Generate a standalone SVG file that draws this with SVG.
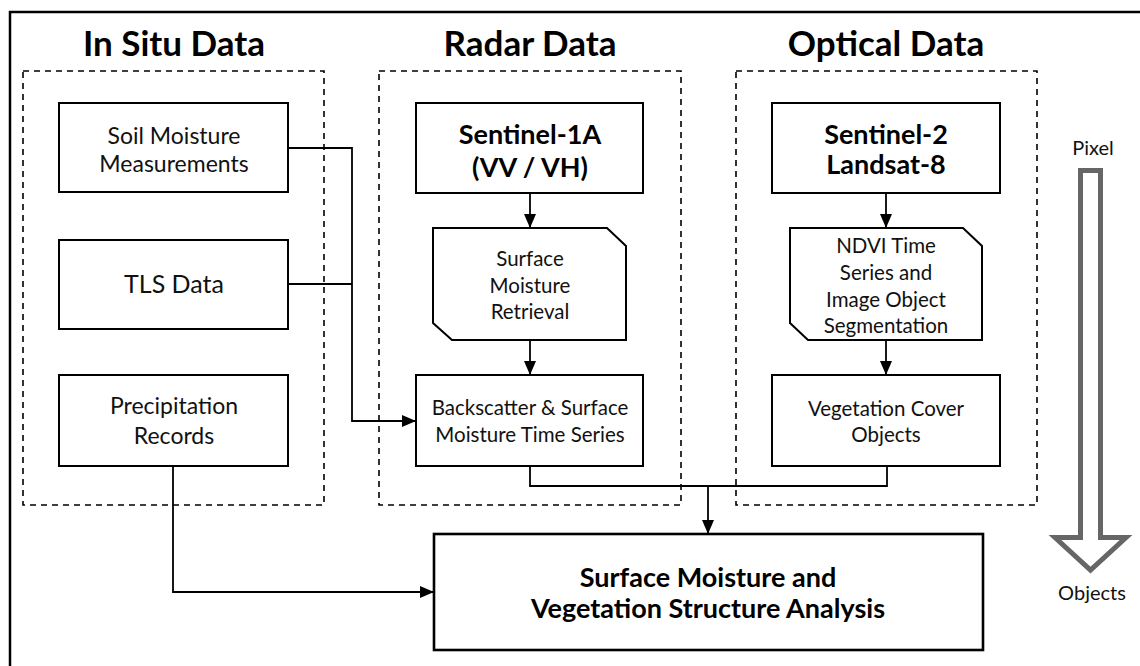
<svg xmlns="http://www.w3.org/2000/svg" width="1140" height="666" viewBox="0 0 1140 666">
<style>
.box{fill:#fff;stroke:#000;stroke-width:2}
.grp{fill:none;stroke:#000;stroke-width:1.6;stroke-dasharray:6 5}
.t{font-family:Lato,"Liberation Sans",sans-serif;font-size:23px;fill:#111;text-anchor:middle}
.s{font-family:Lato,"Liberation Sans",sans-serif;font-size:20.5px;fill:#111;text-anchor:middle}
.b{font-family:Lato,"Liberation Sans",sans-serif;font-size:27px;font-weight:bold;fill:#000;text-anchor:middle}
.h{font-family:Lato,"Liberation Sans",sans-serif;font-size:35px;font-weight:bold;fill:#000;text-anchor:middle}
.c{fill:none;stroke:#000;stroke-width:1.8}
</style>
<defs>
<marker id="ah" markerWidth="14" markerHeight="14" viewBox="0 0 14 14" refX="14" refY="7" orient="auto" markerUnits="userSpaceOnUse">
<path d="M0,1 L14,7 L0,13 Z" fill="#000"/>
</marker>
</defs>
<rect x="10" y="12" width="1145" height="670" fill="none" stroke="#000" stroke-width="2.5"/>
<g id="groups">
<rect class="grp" x="23" y="71" width="301" height="434"/>
<rect class="grp" x="379" y="71" width="302" height="434"/>
<rect class="grp" x="736" y="71" width="301" height="434"/>
<text class="h" x="174" y="56">In Situ Data</text>
<text class="h" x="530" y="56">Radar Data</text>
<text class="h" x="886" y="56">Optical Data</text>
</g>
<g id="connectors">
<polyline class="c" points="288,148 352,148 352,421 416,421" marker-end="url(#ah)"/>
<line class="c" x1="288" y1="284" x2="352" y2="284"/>
<line class="c" x1="530" y1="193" x2="530" y2="228" marker-end="url(#ah)"/>
<line class="c" x1="530" y1="340" x2="530" y2="375" marker-end="url(#ah)"/>
<polyline class="c" points="530,466 530,486 887,486 887,466"/>
<line class="c" x1="708" y1="486" x2="708" y2="534" marker-end="url(#ah)"/>
<line class="c" x1="886" y1="193" x2="886" y2="228" marker-end="url(#ah)"/>
<line class="c" x1="886" y1="340" x2="886" y2="375" marker-end="url(#ah)"/>
<polyline class="c" points="173,466 173,592 434,592" marker-end="url(#ah)"/>
</g>
<g id="soil"><rect class="box" x="59" y="103" width="229" height="89"/>
<text class="t" x="174" y="144">Soil Moisture</text><text class="t" x="174" y="172">Measurements</text></g>
<g id="tls"><rect class="box" x="59" y="240" width="229" height="89"/>
<text class="t" x="174" y="293" style="font-size:25px">TLS Data</text></g>
<g id="precip"><rect class="box" x="59" y="375" width="229" height="91"/>
<text class="t" x="174" y="414">Precipitation</text><text class="t" x="174" y="444">Records</text></g>
<g id="s1"><rect class="box" x="416" y="103" width="227" height="90"/>
<text class="b" x="530" y="144">Sentinel-1A</text><text class="b" x="530" y="177">(VV / VH)</text></g>
<g id="smr"><path class="box" d="M433,228 L607,228 L626,246 L626,340 L452,340 L433,323 Z"/>
<text class="s" x="530" y="266">Surface</text><text class="s" x="530" y="293">Moisture</text><text class="s" x="530" y="319">Retrieval</text></g>
<g id="bs"><rect class="box" x="416" y="375" width="227" height="91"/>
<text class="s" x="530" y="415">Backscatter &amp; Surface</text><text class="s" x="530" y="442">Moisture Time Series</text></g>
<g id="s2"><rect class="box" x="772" y="103" width="228" height="90"/>
<text class="b" x="886" y="144">Sentinel-2</text><text class="b" x="886" y="174">Landsat-8</text></g>
<g id="ndvi"><path class="box" d="M790,228 L963,228 L982,246 L982,340 L808,340 L790,323 Z"/>
<text class="s" x="886" y="253">NDVI Time</text><text class="s" x="886" y="280">Series and</text><text class="s" x="886" y="307">Image Object</text><text class="s" x="886" y="333">Segmentation</text></g>
<g id="veg"><rect class="box" x="772" y="375" width="228" height="91"/>
<text class="s" x="886" y="416">Vegetation Cover</text><text class="s" x="886" y="442">Objects</text></g>
<g id="final"><rect class="box" x="434" y="534" width="549" height="116" style="stroke-width:2.6"/>
<text class="b" x="708" y="587">Surface Moisture and</text><text class="b" x="708" y="618">Vegetation Structure Analysis</text></g>
<g id="scale">
<path d="M1080.5,170.5 L1100.5,170.5 L1100.5,537.5 L1126,537.5 L1090.5,570 L1055,537.5 L1080.5,537.5 Z" fill="none" stroke="#666" stroke-width="5"/>
<text class="s" x="1093" y="155" style="font-size:20px">Pixel</text>
<text class="s" x="1092" y="600" style="font-size:20px">Objects</text>
</g>
</svg>
